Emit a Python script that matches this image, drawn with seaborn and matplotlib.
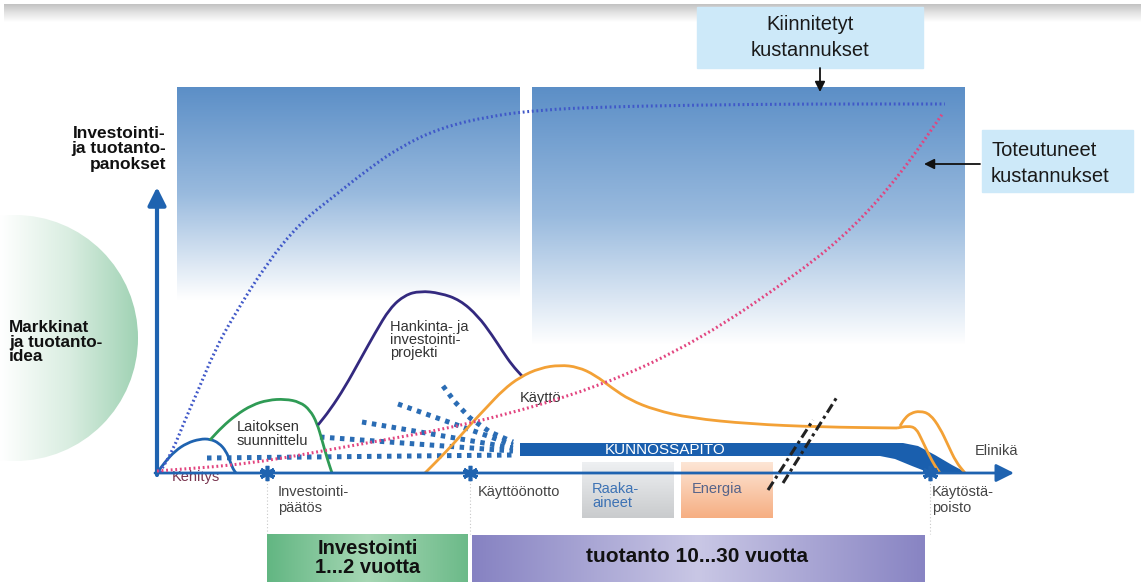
import numpy as np
import pandas as pd
import matplotlib
matplotlib.use("Agg")
import matplotlib.pyplot as plt
from matplotlib.patches import Rectangle, Circle, Polygon, PathPatch
from matplotlib.path import Path
from matplotlib.colors import LinearSegmentedColormap
import seaborn as sns

sns.set_theme(style="white")
plt.rcParams["font.family"] = ["Liberation Sans", "DejaVu Sans"]

W, H = 1141, 582

# ---- curve data (horizontal = life-cycle position, vertical = screen depth) ----
committed_x = [160, 173, 185, 197, 215, 233, 267, 300, 333, 367, 400, 440, 490, 540, 600, 700, 800, 945]
committed_y = [472, 450, 420, 393, 350, 317, 263, 223, 197, 170, 147, 128, 116, 110, 107, 105, 104, 104]

realised_x = [157, 250, 350, 473, 600, 700, 800, 853, 900, 943]
realised_y = [471, 464, 446, 424, 387, 340, 272, 228, 175, 113]

kehitys_x = [157, 165, 175, 187, 200, 210, 219, 226, 230, 233, 236]
kehitys_y = [473, 462, 451, 443, 439, 439, 443, 451, 461, 469, 473]

suunnittelu_x = [210, 222, 236, 252, 268, 285, 300, 310, 317, 322, 327, 332]
suunnittelu_y = [440, 427, 415, 405, 400, 399, 402, 410, 423, 440, 458, 473]

hankinta_x = [318, 330, 345, 360, 375, 390, 405, 420, 440, 460, 478, 492, 503, 512, 522]
hankinta_y = [425, 410, 387, 360, 333, 308, 295, 291, 293, 300, 316, 335, 352, 365, 376]

kaytto_x = [425, 440, 455, 470, 487, 503, 520, 540, 560, 578, 595, 612, 630, 655, 690, 750, 820, 897]
kaytto_y = [473, 458, 442, 425, 407, 390, 377, 368, 365, 367, 375, 388, 400, 410, 418, 424, 427, 428]
kaytto_end1_x = [897, 908, 916, 922, 929, 935, 940]
kaytto_end1_y = [428, 426, 428, 440, 455, 466, 473]
kaytto_end2_x = [900, 905, 911, 920, 930, 940, 948, 956, 965]
kaytto_end2_y = [426, 418, 413, 411, 414, 428, 445, 462, 473]

# converging maintenance dot rows
fan_rows = [
    ([207, 513], [458, 455]),
    ([320, 513], [437, 451]),
    ([362, 513], [422, 448]),
    ([398, 513], [404, 445]),
    ([443, 455, 470, 490, 513], [386, 402, 418, 432, 442]),
]

band_top_x = [520, 903, 918, 935, 952, 967]
band_top_y = [443, 443, 446, 455, 465, 473]
band_bot_x = [930, 912, 895, 880, 520]
band_bot_y = [473, 466, 459, 456, 456]

milestones_x = [267, 470, 930]
milestone_labels = ["Investointi-\npäätös", "Käyttöönotto", "Käytöstä-\npoisto"]

blue = "#1f63b0"

fig = plt.figure(figsize=(W / 100, H / 100), dpi=100)
ax = fig.add_axes([0, 0, 1, 1])
ax.set_xlim(0, W)
ax.set_ylim(H, 0)
ax.axis("off")


def gradient(x0, x1, y0, y1, colors, vertical=True, z=1, clip=None):
    t = np.linspace(0, 1, 256)
    arr = t[:, None] if vertical else t[None, :]
    cmap = LinearSegmentedColormap.from_list("g", colors)
    im = ax.imshow(arr, cmap=cmap, extent=(x0, x1, y1, y0), origin="upper",
                   aspect="auto", zorder=z, interpolation="bilinear")
    if clip is not None:
        ax.add_patch(clip)
        clip.set_visible(False)
        im.set_clip_path(clip)
    return im


def smooth(xs, ys, color, lw=2, ls="-", z=5):
    """Quadratic Bezier through the midpoints of the given control points."""
    pts = np.column_stack([xs, ys]).astype(float)
    verts = [pts[0], (pts[0] + pts[1]) / 2]
    codes = [Path.MOVETO, Path.LINETO]
    for i in range(1, len(pts) - 1):
        verts += [pts[i], (pts[i] + pts[i + 1]) / 2]
        codes += [Path.CURVE3, Path.CURVE3]
    verts.append(pts[-1])
    codes.append(Path.LINETO)
    ax.add_patch(PathPatch(Path(verts, codes), fill=False, edgecolor=color, lw=lw,
                           linestyle=ls, zorder=z, capstyle="butt", joinstyle="round"))


# top shadow strip
gradient(4, W, 4, 22, ["#c2c2c2", "#e4e4e4", "white"], z=0)

# blue cost panels
panel_blue = (0.36, 0.56, 0.78)
gradient(177, 520, 87, 300, [panel_blue, (0.60, 0.73, 0.87), "white"], z=1)
gradient(532, 965, 87, 345, [panel_blue, (0.60, 0.73, 0.87), "white"], z=1)

# market idea disc
disc = Circle((15, 338), 123, transform=ax.transData)
gradient(0, 140, 215, 462, ["white", (0.85, 0.93, 0.88), (0.62, 0.82, 0.70)],
         vertical=False, z=1, clip=disc)

# callout boxes
ax.add_patch(Rectangle((697, 7), 226, 61, color="#cde9f9", zorder=3))
ax.add_patch(Rectangle((982, 130), 151, 62, color="#cde9f9", zorder=3))
ax.text(810, 24, "Kiinnitetyt", ha="center", va="center", fontsize=14.5, color="#1a1a1a", zorder=4)
ax.text(810, 51, "kustannukset", ha="center", va="center", fontsize=14.5, color="#1a1a1a", zorder=4)
ax.text(991, 150, "Toteutuneet", ha="left", va="center", fontsize=14.5, color="#1a1a1a", zorder=4)
ax.text(991, 176, "kustannukset", ha="left", va="center", fontsize=14.5, color="#1a1a1a", zorder=4)
ax.annotate("", xy=(820, 92), xytext=(820, 68),
            arrowprops=dict(arrowstyle="-|>,head_length=0.5,head_width=0.25", color="#111",
                            lw=1.3, shrinkA=0, shrinkB=0), zorder=4)
ax.annotate("", xy=(924, 164), xytext=(980, 164),
            arrowprops=dict(arrowstyle="-|>,head_length=0.5,head_width=0.25", color="#111",
                            lw=1.3, shrinkA=0, shrinkB=0), zorder=4)

# axes arrows
ax.annotate("", xy=(157, 187), xytext=(157, 475),
            arrowprops=dict(arrowstyle="-|>,head_length=0.9,head_width=0.45", color=blue,
                            lw=3, shrinkA=0, shrinkB=0), zorder=6)
ax.annotate("", xy=(1014, 473), xytext=(155, 473),
            arrowprops=dict(arrowstyle="-|>,head_length=0.9,head_width=0.45", color=blue,
                            lw=2, shrinkA=0, shrinkB=0), zorder=6)

# axis titles
ax.text(166, 149, "Investointi-\nja tuotanto-\npanokset", ha="right", va="center",
        fontsize=12.5, fontweight="bold", color="#111", linespacing=1.0, zorder=5)
ax.text(9, 342, "Markkinat\nja tuotanto-\nidea", ha="left", va="center",
        fontsize=12.3, fontweight="bold", color="#111", linespacing=0.95, zorder=5)

# maintenance band
band = Polygon(list(zip(band_top_x, band_top_y)) + list(zip(band_bot_x, band_bot_y)),
               closed=True, color="#1a5fae", zorder=4, lw=0)
ax.add_patch(band)
ax.text(665, 450, "KUNNOSSAPITO", ha="center", va="center", fontsize=11,
        color="white", zorder=5)

# converging dotted rows
for rx, ry in fan_rows:
    sns.lineplot(x=rx, y=ry, ax=ax, color="#2a6cb4", lw=3.6, linestyle=(0, (0.9, 1.1)),
                 sort=False, estimator=None, zorder=4, dash_capstyle="butt")

# phase curves
smooth(kehitys_x, kehitys_y, blue)
smooth(suunnittelu_x, suunnittelu_y, "#2f9b55")
smooth(hankinta_x, hankinta_y, "#33297f")
smooth(kaytto_x, kaytto_y, "#f3a136")
smooth(kaytto_end1_x, kaytto_end1_y, "#f3a136")
smooth(kaytto_end2_x, kaytto_end2_y, "#f3a136")

# cost curves (fine dotted)
smooth(committed_x, committed_y, "#4058c8", lw=2.2, ls=(0, (0.6, 0.9)), z=6)
smooth(realised_x, realised_y, "#e2447f", lw=2.2, ls=(0, (0.6, 0.9)), z=6)

# phase labels
ax.text(172, 477, "Kehitys", ha="left", va="center", fontsize=10.5, color="#7a3650", zorder=5)
ax.text(237, 434, "Laitoksen\nsuunnittelu", ha="left", va="center", fontsize=10.5,
        color="#333", linespacing=1.0, zorder=5)
ax.text(390, 340, "Hankinta- ja\ninvestointi-\nprojekti", ha="left", va="center",
        fontsize=10.5, color="#333", linespacing=0.95, zorder=5)
ax.text(520, 398, "Käyttö", ha="left", va="center", fontsize=10.5, color="#333", zorder=5)
ax.text(975, 451, "Elinikä", ha="left", va="center", fontsize=10.5, color="#444", zorder=5)

# milestones
ax.plot(milestones_x, [473] * len(milestones_x), ls="none", marker=(6, 2, 0),
        ms=11, mew=2.6, color=blue, zorder=7)
label_x = [278, 478, 932]
for mx, lx, lab in zip(milestones_x, label_x, milestone_labels):
    ax.plot([mx, mx], [480, 534], color="#c8c8c8", lw=0.8, ls=(0, (1, 2)), zorder=2)
    ax.text(lx, 485, lab, ha="left", va="top", fontsize=10.5, color="#444",
            linespacing=1.15, zorder=5)

# input boxes
gradient(582, 674, 462, 518, ["#eef0f2", "#c9cbcd"], z=2)
gradient(681, 773, 462, 518, ["#fde6d6", "#f6ae82"], z=2)
ax.text(592, 482, "Raaka-\naineet", ha="left", va="top", fontsize=10.5,
        color="#3d72b4", linespacing=1.0, zorder=5)
ax.text(692, 482, "Energia", ha="left", va="top", fontsize=10.5, color="#56648a", zorder=5)

# break marks on the timeline
for bx, by in [([768, 813], [490, 420]), ([783, 837], [483, 397])]:
    sns.lineplot(x=bx, y=by, ax=ax, color="#222", lw=2.2,
                 linestyle=(0, (3.2, 1.3, 1.0, 1.3)), sort=False, estimator=None, zorder=8)

# duration bars
gradient(267, 468, 534, 590, ["#62b682", "#a6d7b4", "#6cba89"], vertical=False, z=2)
gradient(472, 925, 535, 590, ["#8682c2", "#c9c7e5", "#8884c3"], vertical=False, z=2)
ax.text(368, 558, "Investointi\n1...2 vuotta", ha="center", va="center", fontsize=14.5,
        fontweight="bold", color="#111", linespacing=0.95, zorder=5)
ax.text(697, 557, "tuotanto 10...30 vuotta", ha="center", va="center", fontsize=15,
        fontweight="bold", color="#111", zorder=5)

ax.set_xlim(0, W)
ax.set_ylim(H, 0)
fig.savefig("out.png", dpi=100)
